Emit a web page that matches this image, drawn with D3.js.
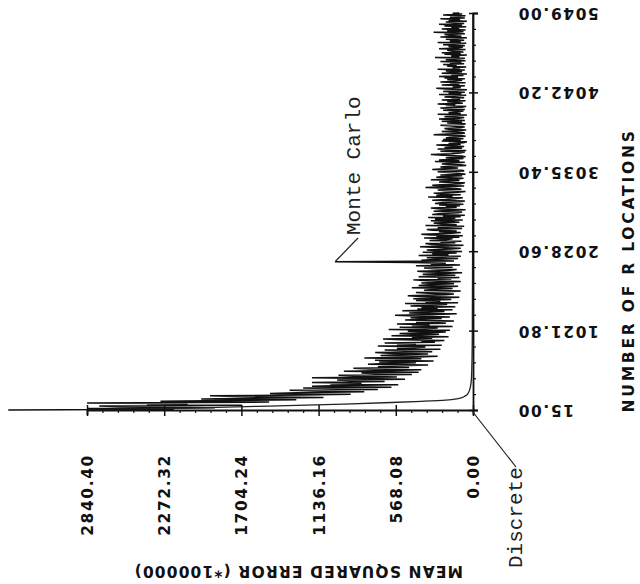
<!DOCTYPE html>
<html>
<head>
<meta charset="utf-8">
<script src="https://cdn.jsdelivr.net/npm/d3@7"></script>
<style>
  html, body { margin: 0; padding: 0; background: #fff; }
  svg { display: block; }
  .plotfont { font-family: "DejaVu Sans", "Liberation Sans", sans-serif; font-weight: bold; font-size: 15.5px; letter-spacing: 1.6px; fill: #111; }
  .note { font-family: "Liberation Mono", "DejaVu Sans Mono", monospace; font-size: 21px; fill: #222; }
</style>
</head>
<body>
<svg id="chart" width="640" height="584"></svg>
<script>
// Axis tick values
const locationTicks = [15.00, 1021.80, 2028.60, 3035.40, 4042.20, 5049.00];
const mseTicks = [0.00, 568.08, 1136.16, 1704.24, 2272.32, 2840.40];

// Monte Carlo mean squared error (x 100000), sampled every 10 R locations from 15, last point at 5049
const monteCarloMSE = [
  3420, 2200, 2840, 1900, 2600, 2750, 1700, 2400, 2100, 2840, 1500, 2300, 1800, 1300, 2000, 1600, 1100, 1750, 1935, 1250,
  900, 1494, 1300, 800, 1100, 1350, 700, 1000, 1250, 600, 1185, 950, 550, 1050, 820, 1185, 650, 900, 1000, 500,
  780, 1185, 560, 880, 990, 450, 720, 820, 400, 950, 600, 380, 760, 880, 470, 700, 520, 330, 773, 640,
  420, 690, 290, 721, 560, 380, 800, 450, 260, 680, 540, 330, 620, 720, 300, 500, 650, 240, 560, 430,
  350, 700, 230, 560, 420, 650, 280, 380, 210, 520, 662, 300, 450, 180, 600, 380, 250, 540, 320, 200,
  480, 170, 620, 350, 260, 540, 150, 450, 320, 560, 200, 420, 260, 140, 500, 360, 230, 460, 170, 380,
  574, 280, 120, 470, 330, 210, 520, 150, 410, 260, 380, 130, 460, 300, 190, 500, 110, 350, 240, 420,
  160, 440, 250, 100, 390, 480, 200, 140, 330, 420, 180, 90, 360, 270, 150, 450, 230, 110, 400, 300,
  140, 380, 200, 90, 340, 440, 160, 260, 100, 400, 300, 130, 370, 220, 80, 330, 410, 180, 120, 290,
  360, 150, 270, 420, 95, 310, 200, 450, 1015, 140, 380, 260, 110, 340, 230, 90, 400, 180, 300, 120,
  370, 80, 280, 340, 160, 90, 260, 390, 180, 70, 300, 350, 130, 240, 85, 320, 200, 150, 360, 100,
  270, 75, 310, 380, 160, 90, 250, 120, 300, 340, 80, 260, 190, 65, 350, 120, 230, 290, 100, 170,
  310, 75, 280, 130, 330, 90, 220, 60, 300, 250, 110, 80, 290, 180, 55, 240, 310, 120, 200, 95,
  250, 70, 280, 220, 95, 60, 300, 200, 130, 75, 330, 150, 270, 90, 240, 290, 110, 55, 210, 260,
  85, 120, 350, 230, 65, 300, 200, 90, 60, 250, 180, 100, 310, 115, 70, 270, 220, 80, 240, 55,
  95, 190, 260, 65, 80, 300, 210, 110, 240, 180, 50, 90, 230, 170, 60, 280, 100, 250, 140, 70,
  200, 55, 85, 220, 310, 160, 95, 60, 240, 50, 190, 260, 80, 210, 65, 150, 270, 90, 180, 70,
  45, 230, 90, 220, 70, 200, 170, 55, 85, 290, 190, 60, 75, 230, 120, 50, 180, 210, 90, 60,
  160, 240, 70, 55, 190, 80, 230, 60, 150, 250, 100, 65, 210, 140, 45, 260, 90, 180, 120, 70,
  220, 60, 170, 240, 80, 50, 200, 130, 260, 75, 110, 190, 55, 230, 95, 160, 65, 210, 140, 50,
  250, 85, 180, 60, 220, 120, 45, 200, 270, 90, 150, 60, 230, 100, 170, 55, 240, 130, 80, 190,
  60, 210, 110, 250, 70, 160, 45, 230, 140, 80, 200, 60, 260, 95, 150, 50, 190, 120, 220, 65,
  170, 85, 240, 55, 200, 130, 60, 280, 100, 160, 45, 210, 90, 230, 70, 150, 190, 55, 250, 110,
  75, 180, 60, 220, 140, 50, 260, 90, 170, 65, 200, 120, 45, 240, 85, 160, 210, 60, 130, 290,
  70, 190, 55, 230, 100, 160, 50, 210, 80, 250, 65, 140, 200, 45, 180, 95, 240, 60, 170, 120,
  55, 220, 80, 150, 100
];
const sampleStart = 15, sampleStep = 10, lastLocation = 5049;
const monteCarloLocations = monteCarloMSE.map((v, i) =>
  i === monteCarloMSE.length - 1 ? lastLocation : sampleStart + i * sampleStep);

// Discrete method error curve
const discreteLocations = [15, 40, 65, 90, 110, 125, 140, 160, 190, 230, 300, 400, 600, 1000, 2000, 3000, 4000, 5049];
const discreteMSE      = [2840, 2100, 1500, 950, 600, 380, 200, 110, 60, 35, 20, 12, 8, 5, 3, 2, 2, 1];

const svg = d3.select("#chart");

// The plot is drawn turned on its side: R locations run up the page, error runs to the left.
const locScale = d3.scaleLinear().domain([15, 5049]).range([410, 13]);
const mseScale = d3.scaleLinear().domain([0, 2840.40]).range([473, 87]);

const fmt = d => d.toFixed(2);

// Series first, so the axes sit on top
const line = d3.line().x(d => mseScale(d[1])).y(d => locScale(d[0]));

svg.append("path")
  .datum(monteCarloLocations.map((n, i) => [n, monteCarloMSE[i]]))
  .attr("d", line)
  .attr("fill", "none").attr("stroke", "#111").attr("stroke-width", 1.5)
  .attr("stroke-linejoin", "miter");

svg.append("path")
  .datum(discreteLocations.map((n, i) => [n, discreteMSE[i]]))
  .attr("d", line.curve(d3.curveMonotoneY))
  .attr("fill", "none").attr("stroke", "#222").attr("stroke-width", 1.3);

// Location axis (vertical, at zero error)
const locAxis = svg.append("g").attr("transform", `translate(${mseScale(0)},0)`)
  .call(d3.axisRight(locScale).tickValues(locationTicks).tickFormat(fmt).tickSizeOuter(0).tickSize(5));
locAxis.select(".domain").attr("stroke", "#111").attr("stroke-width", 1.8);
locAxis.selectAll(".tick line").attr("x1", -4).attr("x2", 5).attr("stroke", "#111").attr("stroke-width", 1.5);
locAxis.selectAll(".tick text")
  .attr("class", "plotfont")
  .attr("x", null).attr("dy", "0.36em")
  .attr("transform", "translate(44,0) rotate(180)")
  .attr("text-anchor", "end");

// minor ticks on location axis
const locMinor = d3.range(0, 25).map(k => 15 + k * 1006.8 / 5).filter((v, k) => k % 5 !== 0);
svg.append("g").attr("transform", `translate(${mseScale(0)},0)`)
  .call(d3.axisRight(locScale).tickValues(locMinor).tickFormat("").tickSizeOuter(0).tickSize(3))
  .call(g => g.select(".domain").remove())
  .selectAll("line").attr("stroke", "#111").attr("stroke-width", 1.2);

// Error axis (horizontal, at the first location)
const mseAxis = svg.append("g").attr("transform", `translate(0,${locScale(15)})`)
  .call(d3.axisBottom(mseScale).tickValues(mseTicks).tickFormat(fmt).tickSizeOuter(0).tickSize(5));
mseAxis.select(".domain").attr("stroke", "#111").attr("stroke-width", 1.8);
mseAxis.selectAll(".tick line").attr("y1", -5).attr("y2", 6).attr("stroke", "#111").attr("stroke-width", 1.5);
mseAxis.selectAll(".tick text")
  .attr("class", "plotfont")
  .attr("y", null).attr("dy", "0.36em")
  .attr("transform", "translate(0,44) rotate(-90)")
  .attr("text-anchor", "end");

const mseMinor = d3.range(0, 25).map(k => k * 568.08 / 5).filter((v, k) => k % 5 !== 0);
svg.append("g").attr("transform", `translate(0,${locScale(15)})`)
  .call(d3.axisBottom(mseScale).tickValues(mseMinor).tickFormat("").tickSizeOuter(0).tickSize(3))
  .call(g => g.select(".domain").remove())
  .selectAll("line").attr("stroke", "#111").attr("stroke-width", 1.2);

// Axis titles
svg.append("text").attr("class", "plotfont")
  .attr("transform", "translate(628,271) rotate(-90)")
  .attr("text-anchor", "middle").attr("dy", "0.36em")
  .attr("textLength", 283).attr("lengthAdjust", "spacing")
  .text("NUMBER OF R LOCATIONS");

svg.append("text").attr("class", "plotfont")
  .attr("transform", "translate(298,572) rotate(180)")
  .attr("text-anchor", "middle").attr("dy", "0.36em")
  .attr("textLength", 330).attr("lengthAdjust", "spacing")
  .text("MEAN SQUARED ERROR (*100000)");

// Annotations
const peakIdx = monteCarloMSE.indexOf(1015);
svg.append("line")
  .attr("x1", 358).attr("y1", 238)
  .attr("x2", mseScale(monteCarloMSE[peakIdx])).attr("y2", locScale(monteCarloLocations[peakIdx]))
  .attr("stroke", "#222").attr("stroke-width", 1.2);
svg.append("text").attr("class", "note")
  .attr("transform", "translate(360,235) rotate(-90)")
  .text("Monte Carlo");

svg.append("line")
  .attr("x1", mseScale(discreteMSE[discreteMSE.length - 1])).attr("y1", locScale(15) + 2)
  .attr("x2", 516).attr("y2", 467)
  .attr("stroke", "#222").attr("stroke-width", 1.2);
svg.append("text").attr("class", "note")
  .attr("transform", "translate(522,568) rotate(-90)")
  .text("Discrete");
</script>
</body>
</html>
